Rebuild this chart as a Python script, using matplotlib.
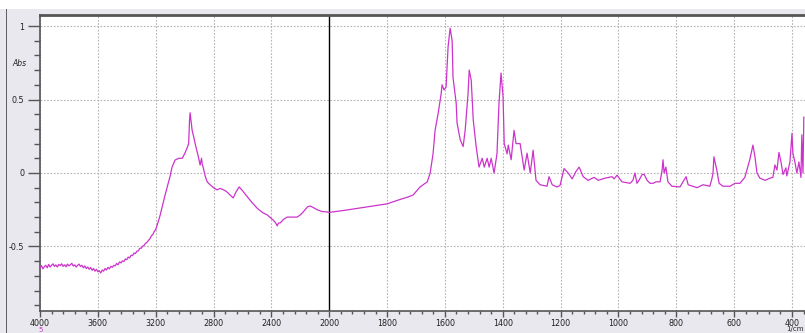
import numpy as np
import matplotlib.pyplot as plt
from matplotlib.patches import Rectangle

# IR absorbance spectrum, wavenumber in 1/cm
wavenumber = [
    4000, 3990, 3980, 3970, 3960, 3950, 3940, 3930, 3920, 3910,
    3900, 3890, 3880, 3870, 3860, 3850, 3840, 3830, 3820, 3810,
    3800, 3790, 3780, 3770, 3760, 3750, 3740, 3730, 3720, 3710,
    3700, 3690, 3680, 3670, 3660, 3650, 3640, 3630, 3620, 3610,
    3600, 3590, 3580, 3570, 3560, 3550, 3540, 3530, 3520, 3510,
    3500, 3490, 3480, 3470, 3460, 3450, 3440, 3430, 3420, 3410,
    3400, 3390, 3380, 3370, 3360, 3350, 3340, 3330, 3320, 3310,
    3300, 3290, 3280, 3270, 3260, 3250, 3240, 3230, 3220, 3210,
    3200, 3185, 3170, 3150, 3135, 3120, 3100,
    3087, 3066, 3040, 3017, 3000, 2983, 2972, 2966, 2962, 2955,
    2948, 2938, 2927, 2915, 2907, 2893, 2883, 2878, 2872, 2858,
    2844, 2824, 2800, 2775, 2755, 2741, 2720, 2706, 2685, 2664,
    2645, 2623, 2600, 2568, 2535, 2498, 2460, 2429, 2400, 2388,
    2370, 2360, 2350, 2339, 2315, 2291, 2255, 2222, 2200, 2180,
    2150, 2132, 2110, 2083, 2050, 2014, 2000, 1950, 1900, 1850,
    1800, 1755, 1730, 1710, 1686, 1661, 1651, 1641, 1634, 1623,
    1613, 1610, 1603, 1596, 1589, 1582, 1575, 1572, 1561, 1558,
    1547, 1537, 1530, 1520, 1516, 1509, 1502, 1492, 1482, 1471,
    1464, 1454, 1447, 1440, 1430, 1420, 1413, 1406, 1399, 1395,
    1385, 1381, 1371, 1361, 1354, 1340, 1333, 1326, 1316, 1305,
    1295, 1285, 1271, 1247, 1240, 1229, 1212, 1202, 1188, 1174,
    1160, 1147, 1136, 1122, 1105, 1084, 1070, 1046, 1022, 1015,
    1005, 988, 960, 950, 943, 936, 929, 918, 911, 901,
    891, 880, 870, 856, 849, 846, 842, 836, 829, 815,
    787, 777, 766, 759, 728, 708, 684, 677, 673, 670,
    660, 652, 639, 614, 597, 580, 563, 546, 535, 528,
    521, 511, 493, 476, 466, 459, 452, 445, 438, 431,
    421, 418, 407, 400, 397, 390, 383, 376, 369, 366,
    362, 359,
]
absorbance = [
    -0.645, -0.630, -0.652, -0.638, -0.628, -0.645, -0.622, -0.640, -0.628, -0.618,
    -0.636, -0.625, -0.640, -0.622, -0.630, -0.618, -0.635, -0.625, -0.638, -0.620,
    -0.632, -0.624, -0.615, -0.633, -0.625, -0.640, -0.628, -0.620, -0.636, -0.628,
    -0.645, -0.632, -0.650, -0.640, -0.655, -0.643, -0.662, -0.650, -0.668, -0.655,
    -0.672, -0.665, -0.680, -0.660, -0.668, -0.650, -0.660, -0.642, -0.652, -0.635,
    -0.642, -0.628, -0.632, -0.615, -0.625, -0.605, -0.612, -0.598, -0.602, -0.585,
    -0.590, -0.572, -0.578, -0.560, -0.562, -0.545, -0.548, -0.532, -0.530, -0.512,
    -0.512, -0.498, -0.492, -0.478, -0.472, -0.458, -0.448, -0.428, -0.418, -0.398,
    -0.385, -0.340, -0.290, -0.210, -0.150, -0.095, -0.020,
    0.040, 0.088, 0.100, 0.100, 0.130, 0.170, 0.200, 0.360, 0.410, 0.350,
    0.290, 0.250, 0.200, 0.150, 0.120, 0.054, 0.100, 0.060, 0.040, -0.020,
    -0.060, -0.080, -0.100, -0.115, -0.105, -0.110, -0.120, -0.130, -0.150, -0.170,
    -0.130, -0.095, -0.120, -0.160, -0.200, -0.240, -0.270, -0.285, -0.310, -0.320,
    -0.340, -0.360, -0.340, -0.340, -0.315, -0.300, -0.300, -0.300, -0.285, -0.265,
    -0.230, -0.225, -0.235, -0.250, -0.262, -0.265, -0.268, -0.255, -0.240, -0.225,
    -0.210, -0.180, -0.165, -0.150, -0.095, -0.060, 0.000, 0.130, 0.290, 0.410,
    0.540, 0.600, 0.565, 0.585, 0.860, 0.985, 0.900, 0.650, 0.475, 0.340,
    0.225, 0.180, 0.290, 0.540, 0.700, 0.630, 0.360, 0.180, 0.040, 0.100,
    0.040, 0.100, 0.040, 0.100, 0.000, 0.130, 0.475, 0.680, 0.520, 0.200,
    0.130, 0.190, 0.090, 0.290, 0.200, 0.200, 0.110, 0.020, 0.135, 0.000,
    0.155, -0.050, -0.080, -0.090, -0.025, -0.080, -0.095, -0.085, 0.030, 0.000,
    -0.040, 0.010, 0.040, -0.025, -0.050, -0.030, -0.050, -0.035, -0.025, -0.040,
    -0.015, -0.060, -0.070, -0.050, 0.000, -0.070, -0.050, -0.010, -0.010, -0.050,
    -0.070, -0.070, -0.060, -0.060, 0.020, 0.090, 0.000, 0.040, -0.060, -0.090,
    -0.095, -0.060, -0.025, -0.080, -0.100, -0.080, -0.090, -0.040, 0.000, 0.110,
    0.020, -0.070, -0.090, -0.090, -0.070, -0.070, -0.030, 0.090, 0.190, 0.110,
    0.000, -0.035, -0.050, -0.035, -0.030, 0.055, 0.020, 0.140, 0.075, -0.010,
    0.035, -0.020, 0.075, 0.270, 0.135, 0.075, 0.000, 0.075, -0.030, 0.260,
    0.000, 0.380,
]

x_major = [4000, 3600, 3200, 2800, 2400, 2000, 1800, 1600, 1400, 1200, 1000, 800, 600, 400]
y_major = [1, 0.5, 0, -0.5]
y_labels = ['1', '0.5', '0', '-0.5']

panel = '#e9e8ee'
spine = '#555555'
grid = '#b4b4b4'
trace = '#cc33cc'


# wavenumber axis with the region below 2000 stretched twice
def fwd(w):
    w = np.asarray(w, dtype=float)
    return np.where(w >= 2000, w, 2 * w - 2000)


def inv(u):
    u = np.asarray(u, dtype=float)
    return np.where(u >= 2000, u, (u + 2000) / 2)


fig = plt.figure(figsize=(8.05, 3.33), dpi=100)
fig.patch.set_facecolor(panel)
fig.patches.append(Rectangle((0, 333 - 9), 805, 9, transform=None,
                             facecolor='white', edgecolor='none', zorder=0))
fig.patches.append(Rectangle((6, 0), 1, 333 - 9, transform=None,
                             facecolor='#606060', edgecolor='none', zorder=1))

ax = fig.add_axes([40 / 805, 22 / 333, 765 / 805, 296 / 333])
ax.set_facecolor('white')
ax.set_xscale('function', functions=(fwd, inv))
ax.set_xlim(4000, 355)
ax.set_ylim(-0.939, 1.075)

for w in x_major:
    if w == 2000:
        ax.axvline(w, color='black', lw=1.0, zorder=2)
    else:
        ax.axvline(w, color=grid, lw=0.8, ls=(0, (1.5, 1.5)), zorder=1)
for v in y_major:
    ax.axhline(v, color=grid, lw=0.8, ls=(0, (1.5, 1.5)), zorder=1)

ax.plot(wavenumber, absorbance, color=trace, lw=0.9, zorder=3)

ax.set_xticks(x_major)
ax.set_xticklabels([str(w) for w in x_major])
ax.set_xticks(list(range(2080, 4000, 80)) + list(range(360, 2000, 40)), minor=True)
ax.set_yticks(y_major)
ax.set_yticklabels(y_labels)
ax.set_yticks([v / 10 for v in range(-9, 11)], minor=True)

ax.tick_params(axis='both', which='both', colors=spine, labelcolor='#222222',
               labelsize=5.8)
ax.tick_params(axis='y', which='major', length=8.5, width=1.0, pad=3)
ax.tick_params(axis='y', which='minor', length=4.3, width=1.0)
ax.tick_params(axis='x', which='major', length=4.5, width=1.0, pad=1)
ax.tick_params(axis='x', which='minor', length=2.2, width=1.0)

for side in ['left', 'bottom']:
    ax.spines[side].set_color(spine)
    ax.spines[side].set_linewidth(1.2)
ax.spines['top'].set_color(spine)
ax.spines['top'].set_linewidth(2.0)
ax.spines['right'].set_visible(False)

fig.text(12 / 805, 1 - 64 / 333, 'Abs', fontsize=5.5, style='italic',
         color='#222222', va='center')
fig.text(41 / 805, 1 - 330 / 333, '5', fontsize=5, color=trace,
         ha='center', va='center')
fig.text(804 / 805, 1 - 329 / 333, '1/cm', fontsize=5, color='#222222',
         ha='right', va='center')

plt.savefig('out.png', dpi=100, facecolor=fig.get_facecolor())
